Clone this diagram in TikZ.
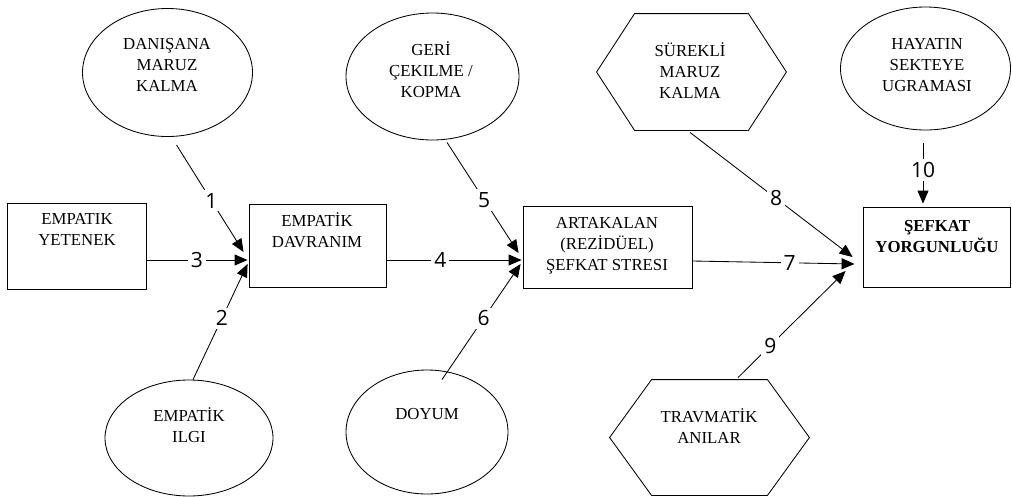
\documentclass[tikz,border=0pt]{standalone}
\usepackage{fontspec}
\setmainfont{Liberation Serif}
\newfontfamily\numfont{Open Sans}
\usetikzlibrary{shapes.geometric,arrows.meta,calc}
\begin{document}
\begin{tikzpicture}[x=1pt,y=-1pt,
  line width=0.85pt,
  ell/.style={draw, ellipse, inner sep=0pt},
  box/.style={draw, rectangle, inner sep=0pt},
  hexa/.style={rectangle, inner sep=0pt},
  txt/.style={align=center, font=\fontsize{16.8}{21}\selectfont, inner sep=0pt},
  arr/.style={-{Triangle[length=13pt,width=11pt]}},
  num/.style={fill=white, inner sep=3pt, font=\numfont\fontsize{21}{21}\selectfont},
]
\useasboundingbox (0,0) rectangle (1012,496);
\fill[white] (0,0) rectangle (1012,496);

% shapes
\node[ell, minimum width=170pt, minimum height=128pt] (dan) at (167.5,72.5) {};
\node[box, minimum width=139pt, minimum height=86pt] (yet) at (76.5,246) {};
\node[ell, minimum width=168pt, minimum height=116pt] (ilgi) at (189,438) {};
\node[box, minimum width=137pt, minimum height=83pt] (davr) at (317.5,245.5) {};
\node[ell, minimum width=173pt, minimum height=127pt] (geri) at (432.5,76.5) {};
\node[box, minimum width=169pt, minimum height=82pt] (art) at (607.5,247) {};
\node[ell, minimum width=162pt, minimum height=124pt] (doyum) at (427,432) {};
\node[hexa, minimum width=189pt, minimum height=116pt] (sur) at (691.5,72) {};
\node[hexa, minimum width=199pt, minimum height=115pt] (trav) at (709.5,437.5) {};
\node[ell, minimum width=170pt, minimum height=123pt] (hay) at (925.5,68.5) {};
\node[box, minimum width=147pt, minimum height=80pt] (sef) at (936.5,247) {};

\draw ([xshift=38pt]sur.north west) -- ([xshift=-38pt]sur.north east) -- (sur.east)
  -- ([xshift=-38pt]sur.south east) -- ([xshift=38pt]sur.south west) -- (sur.west) -- cycle;
\draw ([xshift=42pt]trav.north west) -- ([xshift=-42pt]trav.north east) -- (trav.east)
  -- ([xshift=-42pt]trav.south east) -- ([xshift=42pt]trav.south west) -- (trav.west) -- cycle;

% texts
\node[txt] (dan-t) at (167,65) {DANIŞANA\\MARUZ\\KALMA};
\node[txt] (yet-t) at (77,229) {EMPATIK\\YETENEK};
\node[txt] (ilgi-t) at (189,425) {EMPATİK\\ILGI};
\node[txt] (davr-t) at (317,230) {EMPATİK\\DAVRANIM};
\node[txt] (geri-t) at (431,70) {GERİ\\ÇEKILME /\\KOPMA};
\node[txt] (art-t) at (607,246) {ARTAKALAN\\(REZİDÜEL)\\ŞEFKAT STRESI};
\node[txt] (doyum-t) at (427,414) {DOYUM};
\node[txt] (sur-t) at (690,71) {SÜREKLİ\\MARUZ\\KALMA};
\node[txt] (trav-t) at (709,426) {TRAVMATİK\\ANILAR};
\node[txt] (hay-t) at (927,65) {HAYATIN\\SEKTEYE\\UGRAMASI};
\node[txt, font=\bfseries\fontsize{16.8}{21}\selectfont] (sef-t) at (937,237) {ŞEFKAT\\YORGUNLUĞU};

% arrow targets
\coordinate (t1) at ($(davr.west)+(-5,6.5)$);
\coordinate (t3) at ($(davr.west)+(-1,14.5)$);
\coordinate (t2) at ($(davr.west)+(-1,18.5)$);
\coordinate (t5) at ($(art.west)+(-4,6)$);
\coordinate (t4) at ($(art.west)+(-1,13)$);
\coordinate (t6) at ($(art.west)+(-2,17)$);
\coordinate (t8) at ($(sef.west)+(-10,10)$);
\coordinate (t7) at ($(sef.west)+(-8,17)$);
\coordinate (t9) at ($(sef.west)+(-17,24)$);
\coordinate (t10) at ($(sef.north)+(-13.5,-3)$);
\coordinate (s10) at ($(hay.south)+(-2.5,13)$);

% connectors
\draw[arr] ($(dan.south)+(9,8)$) -- node[num,pos=.52]{1} (t1);
\draw[arr] ($(ilgi.north)+(4,0)$) -- node[num,pos=.53]{2} (t2);
\draw[arr] (yet.east |- t3) -- node[num,pos=.5]{3} (t3);
\draw[arr] (davr.east |- t4) -- node[num,pos=.4]{4} (t4);
\draw[arr] ($(geri.south)+(14.5,2)$) -- node[num,pos=.52]{5} (t5);
\draw[arr] ($(doyum.north)+(15,10)$) -- node[num,pos=.53]{6} (t6);
\draw[arr] ($(art.east)+(0,14)$) -- node[num,pos=.6]{7} (t7);
\draw[arr] ($(sur.south)+(-1.5,2)$) -- node[num,pos=.53]{8} (t8);
\draw[arr] ($(trav.north)+(28.5,-2)$) -- node[num,pos=.3]{9} (t9);
\draw[arr] (s10) -- node[num,pos=.44]{10} (t10);
\end{tikzpicture}
\end{document}
